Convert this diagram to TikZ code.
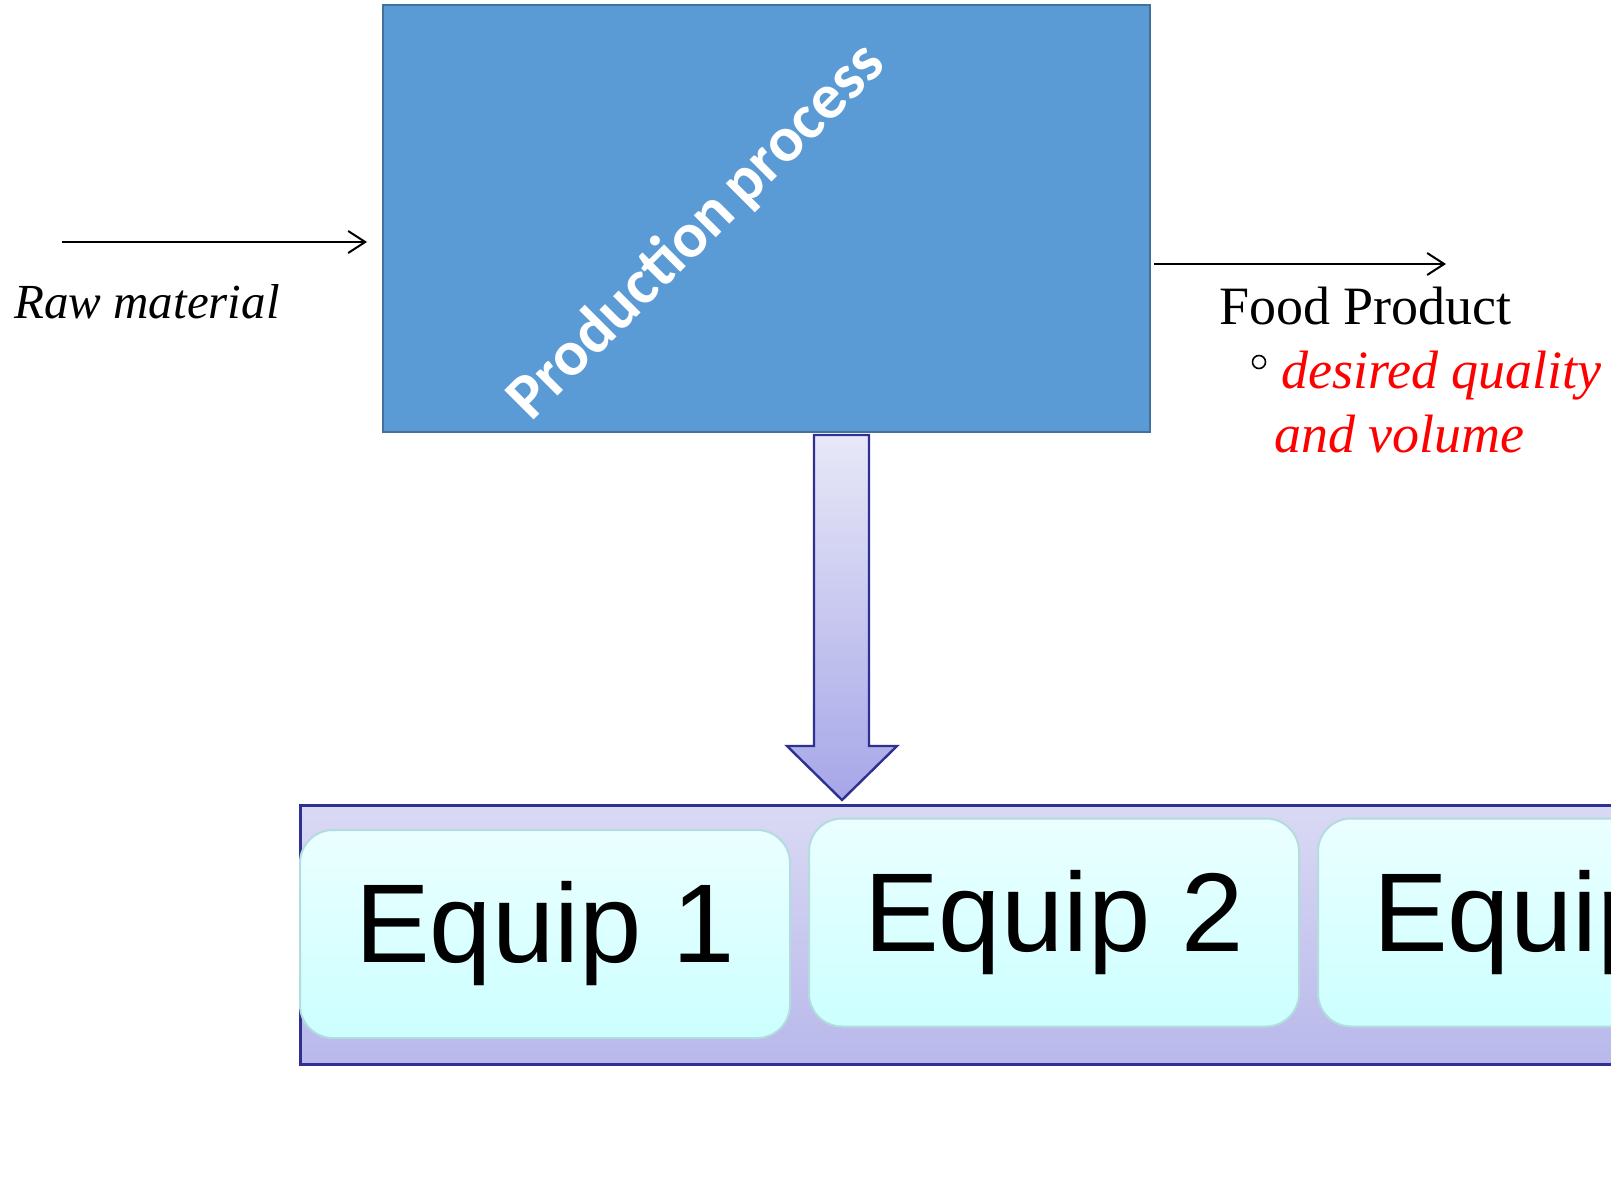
\documentclass[tikz,border=0pt]{standalone}
\usepackage{fontspec}
\setmainfont{Liberation Serif}
\newfontfamily\equipfont{Liberation Sans}
\newfontfamily\procfont{Carlito}
\usetikzlibrary{arrows.meta}

\definecolor{procblue}{HTML}{5B9BD5}
\definecolor{procedge}{HTML}{41719C}
\definecolor{navyedge}{HTML}{2E3192}
\definecolor{bandtop}{HTML}{DAD9F4}
\definecolor{bandbottom}{HTML}{B8B8EB}
\definecolor{arrowtop}{HTML}{E8E8F8}
\definecolor{arrowbottom}{HTML}{A6A6E8}
\definecolor{equiptop}{HTML}{EBFFFF}
\definecolor{equipbottom}{HTML}{CCFFFF}
\definecolor{equipedge}{HTML}{B2DCDE}
\definecolor{notered}{HTML}{FF0000}

\tikzset{
  procbox/.style={draw=procedge, line width=2pt, fill=procblue, rectangle, inner sep=0pt},
  flow/.style={line width=2pt, -{Straight Barb[length=17pt,width=22pt,line width=2pt]}},
  band/.style={draw=navyedge, line width=2.5pt, top color=bandtop, bottom color=bandbottom, rectangle, inner sep=0pt},
  blockarrow/.style={draw=navyedge, line width=2.4pt, line join=miter, top color=arrowtop, bottom color=arrowbottom},
  equipbox/.style={draw=equipedge, line width=2pt, top color=equiptop, bottom color=equipbottom,
    rectangle, rounded corners=33pt, minimum width=490pt, minimum height=208pt, inner sep=0pt,
    font=\equipfont\fontsize{112}{112}\selectfont},
  serifnote/.style={inner sep=0pt, font=\fontsize{54}{60}\selectfont},
}

\begin{document}
\begin{tikzpicture}[x=1pt,y=-1pt]
\useasboundingbox (0,0) rectangle (1611,1193);
\clip (0,0) rectangle (1611,1193);

% production process block
\node[procbox, minimum width=767pt, minimum height=427pt] (proc) at (766.5,218.5) {};
\node[rotate=45, text=white, inner sep=0pt,
      font=\procfont\bfseries\fontsize{64}{64}\selectfont] (proclabel) at (697,232) {Production\hspace{-0.06em} process};

% input and output flows
\coordinate (rawstart) at (62,242);
\coordinate (foodend) at (1446,264);
\draw[flow, shorten >=15pt] (rawstart) -- (rawstart -| proc.west);
\draw[flow, shorten <=3pt] (proc.east |- foodend) -- (foodend);

\node[serifnote, font=\itshape\fontsize{49}{53}\selectfont, anchor=base west] (raw) at (14,318) {Raw material};
\node[serifnote, anchor=base west] (food) at (1219,324) {Food Product};
\node[draw, circle, line width=1.6pt, minimum size=13pt, inner sep=0pt] (bullet) at (1259,362) {};
\node[serifnote, text=notered, font=\itshape\fontsize{54}{60}\selectfont, anchor=base west] (quality) at (1281,388) {desired quality};
\node[serifnote, text=notered, font=\itshape\fontsize{54}{60}\selectfont, anchor=base west] (volume) at (1274,452) {and volume};

% equipment band
\node[band, minimum width=1400pt, minimum height=259pt, anchor=north west] (band) at (299,804) {};
\node[equipbox] (eq1) at (545,934) {Equip 1};
\node[equipbox] (eq2) at (1054,922.5) {Equip 2};
\node[equipbox] (eq3) at (1563,922.5) {Equip 3};

% block arrow from the process down to the equipment
\coordinate (atop) at (841.5,435);
\coordinate (atip) at (842,800);
\path[blockarrow] (814,435) -- (869,435) -- (869,746) -- (897,746) -- (atip)
  -- (787,746) -- (814,746) -- cycle;
\end{tikzpicture}
\end{document}
